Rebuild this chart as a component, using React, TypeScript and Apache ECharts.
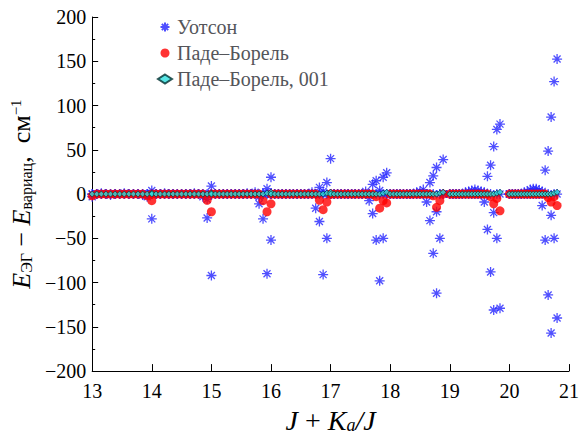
import React, { useEffect, useRef } from "react";
import * as echarts from "echarts";

// Rotational quantum number J for each group; Ka runs 0..KA_MAX
const J_LIST = [13, 14, 15, 16, 17, 18, 19, 20];
const KA_MAX = [13, 14, 15, 16, 16, 16, 16, 16];

// Уотсон: three components per (J, Ka)
const WATSON_1 = [
  [-3, 0, 1, 0, -1, 0, 0, 1, 0, 0, 0, -1, -3, 4],
  [0, 0, 0, 1, 0, 0, 0, 0, 0, 0, 1, 0, -3, -6, 9],
  [0, 0, 0, 0, 0, 0, 0, 0, 0, 1, 0, 2, -11, -28, 6, 19],
  [0, 0, 0, 0, 0, 0, 0, 0, 0, 0, 0, 2, -16, 7.5, -91, 13, 40],
  [0, 0, 0, 0, 0, 0, 0, 0, 0, 0, 3, -7.5, 11, 15, -98, 19, 24],
  [0, 0, 0, 0, 0, 0, 0, 0, 2, 3, 5, -9, 13, 20.6, 30, -50, 39],
  [0, 0, 0, 0, 0, 2, 3, 4, 5, 4, 3, -9, 20, 32.6, 53.6, 73, 79],
  [0, 0, 0, 0, 0, 2, 3, 5, 6, 6, 4, -13, 27, 48.6, 87, 127, 152.5],
];
const WATSON_2 = [
  [0, 0, 0, 0, 0, 0, 0, 0, 0, 0, 0, 0, 0, -28],
  [0, 0, 0, 0, 0, 0, 0, 0, 0, 0, 0, 0, 0, -27, -92],
  [0, 0, 0, 0, 0, 0, 0, 0, 0, 0, 0, 0, -3, 0, -90, -52],
  [0, 0, 0, 0, 0, 0, 0, 0, 0, 0, 0, 0, 0, -31, 3, -50, 0],
  [0, 0, 0, 0, 0, 0, 0, 0, 0, 0, 0, 0, -22, -52, 4, -50, 0],
  [0, 0, 0, 0, 0, 0, 0, 0, 0, 0, 0, 0, -30, -67, -20, 0, 0],
  [0, 0, 0, 0, 0, 0, 0, 0, 0, 0, 0, 2, -40, -88, -21, -50, -129],
  [0, 0, 0, 0, 0, 0, 0, 0, 0, 0, 0, 3, -52, -114, -24, -50, -140],
];
const WATSON_3 = [
  [0, 0, 0, 0, 0, 0, 0, 0, 0, 0, 0, 0, 0, 0],
  [0, 0, 0, 0, 0, 0, 0, 0, 0, 0, 0, 0, 0, 0, 0],
  [0, 0, 0, 0, 0, 0, 0, 0, 0, 0, 0, 0, 0, 0, 0, 0],
  [0, 0, 0, 0, 0, 0, 0, 0, 0, 0, 0, 0, 0, 0, 0, 0, 0],
  [0, 0, 0, 0, 0, 0, 0, 0, 0, 0, 0, 0, 0, 0, 0, 0, 0],
  [0, 0, 0, 0, 0, 0, 0, 0, 0, 0, 0, 0, 0, 0, -112, 0, 0],
  [0, 0, 0, 0, 0, 0, 0, 0, 0, 0, 0, 0, 0, 0, -131, 0, 0],
  [0, 0, 0, 0, 0, 0, 0, 0, 0, 0, 0, 0, 0, 0, -157, 0, 0],
];

// Паде–Борель
const PADE = [
  [-2, 0, 0, 0, 0, 0, 0, 0, 0, 0, 0, 0, -2, -7.5],
  [0, 0, 0, 0, 0, 0, 0, 0, 0, 0, 0, 0, 0, -7, -20],
  [0, 0, 0, 0, 0, 0, 0, 0, 0, 0, 0, 0, 0, -7.5, -20, -11],
  [0, 0, 0, 0, 0, 0, 0, 0, 0, 0, 0, 0, 0, -7, -17.6, -9, 0],
  [0, 0, 0, 0, 0, 0, 0, 0, 0, 0, 0, 0, 0, -3, -16, -7.5, -10],
  [0, 0, 0, 0, 0, 0, 0, 0, 0, 0, 0, 0, 0, -2, -15, -7.5, 0],
  [0, 0, 0, 0, 0, 0, 0, 0, 0, 0, 0, 0, 0, -3, -11, -5, -19],
  [0, 0, 0, 0, 0, 0, 0, 0, 0, 0, 0, 0, 0, -4, -9, -3, -13],
];

// Паде–Борель, 001
const PADE_001 = [
  [0, 0, 0, 0, 0, 0, 0, 0, 0, 0, 0, 0, 0, 1],
  [0, 0, 0, 0, 0, 0, 0, 0, 0, 0, 0, 0, 0, 0, 1],
  [0, 0, 0, 0, 0, 0, 0, 0, 0, 0, 0, 0, 0, 0, 1, 2],
  [0, 0, 0, 0, 0, 0, 0, 0, 0, 0, 0, 0, 0, 0, 0, 1, 2],
  [0, 0, 0, 0, 0, 0, 0, 0, 0, 0, 0, 0, 0, 0, 0, 1, 2],
  [0, 0, 0, 0, 0, 0, 0, 0, 0, 0, 0, 0, 0, 0, 0, 1, 2],
  [0, 0, 0, 0, 0, 0, 0, 0, 0, 0, 0, 0, 0, 0, 0, 1, 2],
  [0, 0, 0, 0, 0, 0, 0, 0, 0, 0, 0, 0, 0, 0, 0, 1, 2],
];

const SERIES_NAMES = ["Уотсон", "Паде–Борель", "Паде–Борель, 001"];

function toPoints(...tables: number[][][]) {
  const pts: number[][] = [];
  tables.forEach((table) => {
    J_LIST.forEach((J, gi) => {
      const row = table[gi];
      for (let ka = 0; ka <= KA_MAX[gi] && ka < row.length; ka++) {
        pts.push([J + ka / J, row[ka]]);
      }
    });
  });
  return pts;
}

const FONT = "Liberation Serif";
const NORMAL = { fontFamily: FONT, fontStyle: "normal", fontWeight: "normal" };
const ITALIC = { fontFamily: FONT, fontStyle: "italic", fontWeight: "normal" };
const ASTERISK = "path://M5,0L5,10M0,5L10,5M1.5,1.5L8.5,8.5M8.5,1.5L1.5,8.5";

export default function App() {
  const ref = useRef<HTMLDivElement>(null);
  useEffect(() => {
    if (!ref.current) return;
    const chart = echarts.init(ref.current, undefined, { renderer: "svg" });
    const axisLine = { lineStyle: { color: "#000", width: 1 } };
    chart.setOption({
      animation: false,
      backgroundColor: "#fff",
      textStyle: { ...NORMAL },
      grid: { left: 92, right: 14, top: 17, bottom: 66 },
      legend: {
        orient: "vertical",
        left: 152,
        top: 12,
        itemWidth: 14,
        itemHeight: 9,
        itemGap: 6,
        textStyle: { ...NORMAL, fontSize: 20 },
        data: SERIES_NAMES,
      },
      xAxis: {
        type: "value",
        min: 13,
        max: 21,
        interval: 1,
        axisLine: { ...axisLine, onZero: false },
        axisTick: { inside: true, length: 7, lineStyle: { color: "#000" } },
        axisLabel: { ...NORMAL, fontSize: 20, color: "#000", margin: 10 },
        splitLine: { show: false },
        name: "{i|J} {n|+} {i|K}{s|a}{i|/J}",
        nameLocation: "middle",
        nameGap: 34,
        nameTextStyle: {
          ...NORMAL,
          fontSize: 28,
          color: "#000",
          rich: {
            i: { ...ITALIC, fontSize: 28 },
            n: { ...NORMAL, fontSize: 28 },
            s: { ...ITALIC, fontSize: 18, verticalAlign: "bottom", lineHeight: 18 },
          },
        },
      },
      yAxis: {
        type: "value",
        min: -200,
        max: 200,
        interval: 50,
        axisLine,
        axisTick: { inside: true, length: 6, lineStyle: { color: "#000" } },
        minorTick: { show: true, splitNumber: 2, length: 3, lineStyle: { color: "#000" } },
        axisLabel: {
          ...NORMAL,
          fontSize: 20,
          color: "#000",
          margin: 6,
          formatter: (v: number) => String(v).replace("-", "−"),
        },
        splitLine: { show: false },
        name: "{e|E}{s|ЭГ}{n| − }{e|E}{s|вариац}{n|,  см}{p|−1}",
        nameLocation: "middle",
        nameRotate: 90,
        nameGap: 52,
        nameTextStyle: {
          ...NORMAL,
          fontSize: 26,
          color: "#000",
          rich: {
            e: { ...ITALIC, fontSize: 26 },
            n: { ...NORMAL, fontSize: 26 },
            s: { ...NORMAL, fontSize: 16, verticalAlign: "bottom", lineHeight: 16 },
            p: { ...NORMAL, fontSize: 15, verticalAlign: "top", lineHeight: 15 },
          },
        },
      },
      series: [
        {
          name: SERIES_NAMES[0],
          type: "scatter",
          symbol: ASTERISK,
          symbolSize: 10,
          itemStyle: { color: "rgba(0,0,0,0)", borderColor: "#2323ff", borderWidth: 1.3 },
          data: toPoints(WATSON_1, WATSON_2, WATSON_3),
          z: 1,
        },
        {
          name: SERIES_NAMES[1],
          type: "scatter",
          symbol: "circle",
          symbolSize: 9,
          itemStyle: { color: "#ff0000" },
          data: toPoints(PADE),
          z: 2,
        },
        {
          name: SERIES_NAMES[2],
          type: "scatter",
          symbol: "diamond",
          symbolSize: 6,
          itemStyle: { color: "#2fe0e0", borderColor: "#003030", borderWidth: 0.8 },
          data: toPoints(PADE_001),
          z: 3,
        },
      ],
    });
    return () => chart.dispose();
  }, []);
  return (
    <div
      ref={ref}
      style={{ position: "fixed", left: 0, top: 0, width: 583, height: 439 }}
    />
  );
}
